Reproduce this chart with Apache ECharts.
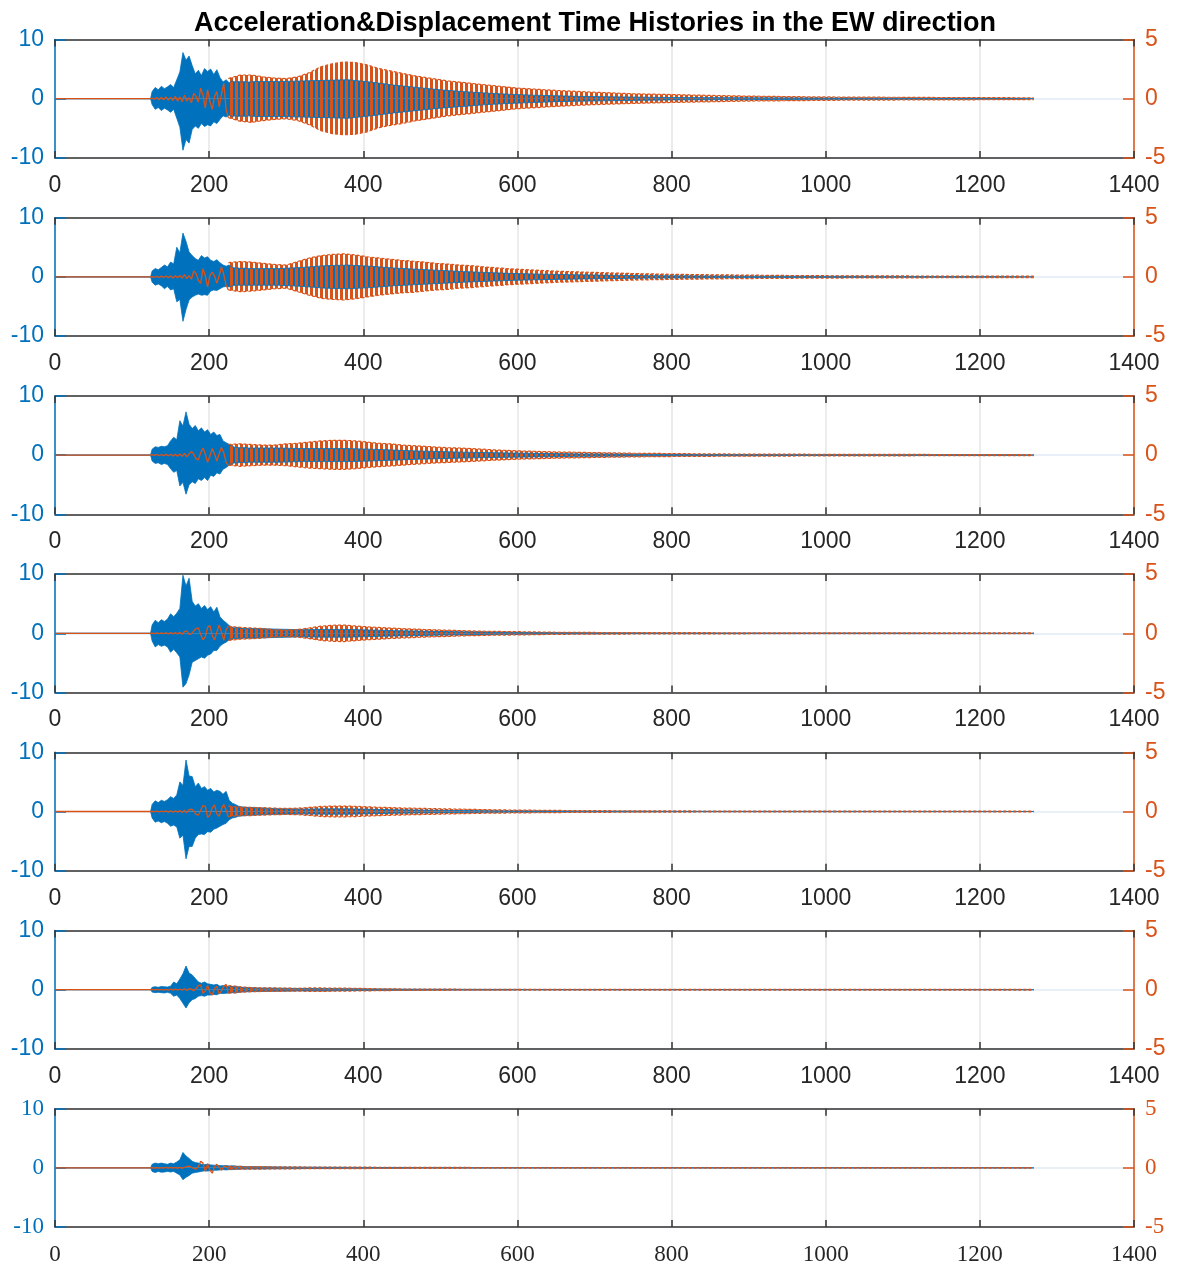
<!DOCTYPE html>
<html>
<head>
<meta charset="utf-8">
<title>Acceleration&Displacement Time Histories</title>
<script src="https://cdn.jsdelivr.net/npm/echarts@6/dist/echarts.min.js"></script>
<style>
  html, body { margin: 0; padding: 0; background: #fff; }
  #chart { width: 1177px; height: 1266px; }
</style>
</head>
<body>
<div id="chart"></div>
<script>
// Acceleration (blue, left axis) is drawn as its min/max envelope,
// displacement (orange, right axis) as explicit early waves + envelope band.

const TITLE = 'Acceleration&Displacement Time Histories in the EW direction';
const X_MIN = 0, X_MAX = 1400, X_STEP = 200;
const ACC_MIN = -10, ACC_MAX = 10, ACC_STEP = 10;
const DISP_MIN = -5, DISP_MAX = 5, DISP_STEP = 5;

// time grid of the acceleration envelope (s)
const ACC_T = [0, 124,
  126, 130, 134, 138, 142, 146, 150, 154, 158, 162,
  166, 170, 174, 178, 182, 186, 190, 194, 198, 202,
  206, 210, 214, 218, 222, 226, 230, 234, 238, 242,
  246, 250,
  260, 290, 320, 350, 380, 410, 440, 470, 500, 530,
  560, 590, 620, 650, 680, 710, 740, 770, 800,
  900, 1000, 1100, 1200, 1270];

// upper envelope of acceleration, one row per panel
const accUpper = [
  [0, 0,
    1.2, 1.9, 1.5, 2.1, 1.7, 2.0, 2.4, 1.9, 3.2, 4.5,
    7.8, 6.5, 7.2, 5.6, 4.2, 4.8, 3.9, 5.1, 4.6, 5.0,
    4.1, 4.9, 3.6, 2.8, 3.2, 2.7, 3.0, 2.8, 2.9, 2.8,
    2.9, 2.8,
    2.9, 2.9, 3.0, 3.1, 3.2, 2.8, 2.3, 1.9, 1.5, 1.2,
    0.95, 0.75, 0.6, 0.5, 0.4, 0.35, 0.3, 0.25, 0.2,
    0.15, 0.1, 0.08, 0.06, 0],
  [0, 0,
    1.0, 1.4, 1.2, 1.6, 2.0, 1.7, 2.5, 2.2, 5.0, 4.1,
    7.4, 6.0, 4.2, 3.6, 3.1, 2.8, 3.6, 3.2, 3.4, 2.8,
    2.6, 2.9, 2.4, 2.0, 1.8, 2.0, 1.6, 1.5, 1.5, 1.4,
    1.5, 1.4,
    1.4, 1.4, 1.6, 1.9, 2.0, 1.8, 1.5, 1.3, 1.1, 0.9,
    0.75, 0.6, 0.5, 0.42, 0.35, 0.3, 0.25, 0.2, 0.18,
    0.12, 0.1, 0.08, 0.06, 0],
  [0, 0,
    1.0, 1.4, 1.3, 1.5, 1.4, 1.6, 2.4, 3.0, 2.6, 5.8,
    4.9, 7.3, 5.2, 4.5, 5.0, 4.1, 4.6, 3.9, 4.3, 3.5,
    3.9, 3.3, 3.5, 2.4, 2.1, 1.8, 1.5, 1.3, 1.3, 1.2,
    1.3, 1.2,
    1.2, 1.2, 1.1, 1.1, 1.1, 1.0, 0.85, 0.7, 0.6, 0.5,
    0.42, 0.36, 0.3, 0.25, 0.2, 0.18, 0.15, 0.12, 0.1,
    0.08, 0.06, 0.05, 0.04, 0],
  [0, 0,
    1.4, 2.2, 1.8, 2.3, 2.0, 2.4, 3.3, 2.8, 3.4, 4.2,
    9.8, 8.0, 9.3, 5.4, 4.6, 5.0, 4.2, 4.7, 4.0, 4.5,
    3.6, 4.4, 2.8, 2.2, 1.8, 1.3, 1.0, 0.9, 1.0, 0.8,
    0.85, 0.8,
    0.8, 0.7, 0.6, 0.65, 0.65, 0.55, 0.45, 0.38, 0.3, 0.25,
    0.2, 0.16, 0.13, 0.1, 0.08, 0.07, 0.06, 0.05, 0.05,
    0.04, 0.03, 0.03, 0.02, 0],
  [0, 0,
    1.2, 1.8, 1.5, 1.9, 1.7, 2.0, 2.5, 2.2, 2.8, 5.0,
    4.4, 8.7, 6.0, 5.9, 4.2, 4.8, 3.9, 4.2, 3.6, 3.9,
    3.3, 3.6, 3.4, 2.9, 3.4, 1.9, 1.4, 1.2, 0.9, 0.8,
    0.7, 0.7,
    0.65, 0.45, 0.4, 0.45, 0.45, 0.38, 0.3, 0.25, 0.2, 0.16,
    0.13, 0.1, 0.08, 0.07, 0.06, 0.05, 0.05, 0.04, 0.04,
    0.03, 0.03, 0.02, 0.02, 0],
  [0, 0,
    0.4, 0.5, 0.4, 0.55, 0.5, 0.45, 0.6, 1.3, 1.0, 1.8,
    2.7, 4.0, 2.8, 2.5, 1.9, 1.3, 1.1, 1.3, 1.0, 0.9,
    0.8, 0.9, 0.6, 0.7, 0.6, 0.55, 0.5, 0.6, 0.45, 0.4,
    0.35, 0.35,
    0.3, 0.25, 0.2, 0.18, 0.15, 0.12, 0.1, 0.08, 0.07, 0.06,
    0.05, 0.05, 0.04, 0.04, 0.03, 0.03, 0.03, 0.02, 0.02,
    0.02, 0.02, 0.02, 0.02, 0],
  [0, 0,
    0.6, 0.8, 0.7, 0.8, 0.7, 0.6, 0.8, 0.7, 1.0, 1.35,
    2.6, 2.0, 1.6, 1.1, 0.9, 0.8, 0.6, 0.55, 0.6, 0.5,
    0.45, 0.4, 0.4, 0.35, 0.4, 0.3, 0.35, 0.3, 0.25, 0.25,
    0.2, 0.2,
    0.2, 0.15, 0.12, 0.1, 0.08, 0.06, 0.05, 0.04, 0.04, 0.03,
    0.03, 0.02, 0.02, 0.02, 0.02, 0.02, 0.02, 0.02, 0.02,
    0.02, 0.02, 0.02, 0.02, 0]
];

// lower envelope of acceleration
const accLower = [
  [0, 0,
    -1.0, -1.8, -1.5, -2.0, -1.6, -1.9, -2.3, -1.8, -3.3, -4.8,
    -8.7, -6.9, -7.5, -5.2, -4.6, -5.0, -4.2, -4.7, -4.4, -4.6,
    -3.9, -4.2, -3.5, -2.9, -3.1, -2.8, -3.0, -2.9, -3.0, -2.9,
    -3.0, -2.9,
    -3.0, -3.0, -3.1, -3.2, -3.3, -2.9, -2.4, -2.0, -1.6, -1.3,
    -1.0, -0.8, -0.65, -0.5, -0.42, -0.36, -0.3, -0.25, -0.2,
    -0.15, -0.1, -0.08, -0.06, 0],
  [0, 0,
    -0.9, -1.4, -1.2, -1.5, -2.0, -1.6, -2.2, -2.0, -4.2, -3.8,
    -7.5, -5.5, -3.9, -3.4, -3.1, -2.9, -3.1, -3.0, -3.1, -2.4,
    -2.2, -2.3, -2.0, -1.7, -1.6, -1.7, -1.5, -1.4, -1.4, -1.4,
    -1.4, -1.4,
    -1.4, -1.4, -1.6, -1.9, -2.0, -1.8, -1.5, -1.3, -1.1, -0.9,
    -0.75, -0.6, -0.5, -0.42, -0.35, -0.3, -0.25, -0.2, -0.18,
    -0.12, -0.1, -0.08, -0.06, 0],
  [0, 0,
    -1.0, -1.4, -1.3, -1.6, -1.4, -1.6, -2.3, -2.9, -2.6, -5.2,
    -4.6, -6.6, -5.0, -4.5, -4.8, -4.0, -4.3, -3.8, -4.3, -3.4,
    -3.6, -3.0, -3.2, -2.4, -2.1, -1.7, -1.4, -1.3, -1.3, -1.2,
    -1.3, -1.2,
    -1.2, -1.2, -1.1, -1.1, -1.1, -1.0, -0.85, -0.7, -0.6, -0.5,
    -0.42, -0.36, -0.3, -0.25, -0.2, -0.18, -0.15, -0.12, -0.1,
    -0.08, -0.06, -0.05, -0.04, 0],
  [0, 0,
    -1.3, -2.3, -1.9, -2.2, -2.0, -2.3, -3.2, -2.7, -3.3, -4.0,
    -9.1, -8.5, -7.0, -4.9, -4.6, -4.3, -4.0, -4.2, -3.7, -3.5,
    -2.9, -2.9, -2.2, -1.75, -1.5, -1.1, -0.9, -0.85, -0.9, -0.8,
    -0.8, -0.8,
    -0.8, -0.7, -0.6, -0.65, -0.65, -0.55, -0.45, -0.38, -0.3, -0.25,
    -0.2, -0.16, -0.13, -0.1, -0.08, -0.07, -0.06, -0.05, -0.05,
    -0.04, -0.03, -0.03, -0.02, 0],
  [0, 0,
    -1.1, -1.8, -1.6, -1.9, -1.7, -2.0, -2.5, -2.3, -2.6, -4.5,
    -4.0, -8.0, -5.9, -5.9, -4.5, -3.9, -3.8, -3.9, -3.4, -3.5,
    -3.0, -2.8, -2.5, -2.2, -2.0, -1.4, -1.1, -1.0, -0.8, -0.75,
    -0.7, -0.65,
    -0.6, -0.45, -0.4, -0.45, -0.45, -0.38, -0.3, -0.25, -0.2, -0.16,
    -0.13, -0.1, -0.08, -0.07, -0.06, -0.05, -0.05, -0.04, -0.04,
    -0.03, -0.03, -0.02, -0.02, 0],
  [0, 0,
    -0.4, -0.5, -0.45, -0.5, -0.55, -0.45, -0.6, -1.1, -0.9, -1.5,
    -2.3, -3.1, -2.2, -1.7, -1.5, -1.1, -1.0, -1.1, -0.9, -0.9,
    -0.8, -0.85, -0.6, -0.65, -0.6, -0.55, -0.5, -0.55, -0.45, -0.4,
    -0.35, -0.35,
    -0.3, -0.25, -0.2, -0.18, -0.15, -0.12, -0.1, -0.08, -0.07, -0.06,
    -0.05, -0.05, -0.04, -0.04, -0.03, -0.03, -0.03, -0.02, -0.02,
    -0.02, -0.02, -0.02, -0.02, 0],
  [0, 0,
    -0.6, -0.8, -0.6, -0.75, -0.7, -0.6, -0.7, -0.6, -0.9, -1.2,
    -2.0, -1.6, -1.3, -0.9, -0.8, -0.7, -0.6, -0.5, -0.55, -0.45,
    -0.4, -0.4, -0.35, -0.3, -0.35, -0.3, -0.3, -0.25, -0.25, -0.2,
    -0.2, -0.2,
    -0.2, -0.15, -0.12, -0.1, -0.08, -0.06, -0.05, -0.04, -0.04, -0.03,
    -0.03, -0.02, -0.02, -0.02, -0.02, -0.02, -0.02, -0.02, -0.02,
    -0.02, -0.02, -0.02, -0.02, 0]
];

// early displacement waves, read point by point (s)
const DISP_EARLY_T = [0,
  120, 123, 126, 129, 132, 135, 138, 141, 144, 147,
  150, 153, 156, 159, 162, 165, 168, 171, 174, 177,
  180, 183, 186, 189, 192, 195, 198, 201, 204, 207,
  210, 213, 216, 219, 222, 225];

const dispEarly = [
  [0,
    0, 0, 0.05, -0.05, 0.1, -0.1, 0.12, -0.1, 0.15, -0.12,
    0.1, -0.15, 0.2, -0.2, 0.15, -0.25, 0.3, -0.2, 0.1, -0.35,
    0.45, 0.2, -0.3, 0.9, 0.3, -0.8, 0.75, -0.2, -0.9, 0.2,
    0.6, -0.7, 0.4, 1.3, -0.9, -1.6],
  [0,
    0, 0, 0.03, -0.03, 0.05, -0.05, 0.06, -0.05, 0.08, -0.06,
    0.08, -0.1, 0.1, -0.08, 0.12, -0.1, 0.2, -0.15, 0.1, -0.2,
    0.5, 0.3, -0.3, -0.55, 0.7, 0.1, -0.85, 0.1, 0.4, 0.1,
    -0.55, 0.1, 0.85, 0.2, -0.7, -1.1],
  [0,
    0, 0, 0.03, -0.03, 0.05, -0.04, 0.05, -0.05, 0.06, -0.05,
    0.07, -0.08, 0.08, -0.1, 0.1, -0.1, 0.15, -0.15, 0.1, 0.3,
    0.1, -0.3, -0.4, 0.2, 0.6, 0.1, -0.6, -0.1, 0.55, 0.1,
    -0.5, 0.1, 0.65, 0.2, -0.6, -0.9],
  [0,
    0, 0, 0.02, -0.02, 0.03, -0.03, 0.04, -0.04, 0.05, -0.05,
    0.06, -0.05, 0.07, -0.06, 0.08, -0.08, 0.15, 0.2, -0.1, -0.05,
    0.2, 0.4, 0.45, -0.1, -0.55, -0.3, 0.5, 0.65, -0.2, -0.55,
    0.1, 0.7, 0.1, -0.6, 0.3, 0.6],
  [0,
    0, 0, 0.02, -0.02, 0.03, -0.03, 0.04, -0.04, 0.05, -0.05,
    0.06, -0.06, 0.07, -0.07, 0.08, -0.08, 0.1, -0.1, 0.15, 0.2,
    0.05, -0.25, -0.3, 0.1, 0.5, 0.45, -0.5, -0.3, 0.3, 0.55,
    -0.2, -0.4, 0.2, 0.6, 0.1, -0.5],
  [0,
    0, 0, 0.02, -0.02, 0.02, -0.02, 0.03, -0.03, 0.03, -0.03,
    0.04, -0.04, 0.05, -0.05, 0.06, -0.05, 0.08, -0.06, 0.08, 0.05,
    -0.1, 0.1, 0.35, 0.4, -0.3, -0.1, 0.35, -0.2, -0.45, 0.1,
    0.3, -0.35, -0.1, 0.3, 0.45, -0.3],
  [0,
    0, 0, 0.02, -0.02, 0.02, -0.02, 0.02, -0.02, 0.03, -0.03,
    0.03, -0.03, 0.04, -0.04, 0.05, -0.05, 0.05, 0.1, 0.15, 0.05,
    -0.05, -0.1, 0.1, 0.55, 0.4, -0.3, 0.35, -0.2, -0.45, 0.1,
    0.3, 0.05, -0.2, 0.1, 0.15, -0.1]
];

// time grid of the displacement envelope (s)
const DISP_T = [
  225, 240, 255, 270, 285, 300, 315, 330, 345, 360,
  375, 390, 405, 420, 435, 450, 465, 480, 495, 510,
  525, 540, 555, 570, 585, 600,
  650, 700, 750, 800, 850, 900, 950, 1000, 1050, 1100,
  1150, 1200, 1250, 1270];

const dispUpper = [
  [1.7, 2.0, 2.0, 1.85, 1.75, 1.7, 1.85, 2.2, 2.7, 2.95,
    3.1, 3.05, 2.85, 2.55, 2.35, 2.15, 1.95, 1.8, 1.65, 1.5,
    1.4, 1.3, 1.2, 1.1, 1.0, 0.9,
    0.7, 0.55, 0.42, 0.35, 0.28, 0.22, 0.18, 0.15, 0.13, 0.12,
    0.1, 0.1, 0.08, 0.08],
  [1.2, 1.3, 1.25, 1.15, 1.05, 1.0, 1.3, 1.6, 1.8, 1.9,
    1.95, 1.85, 1.7, 1.6, 1.5, 1.4, 1.32, 1.25, 1.15, 1.08,
    1.0, 0.95, 0.85, 0.78, 0.7, 0.65,
    0.48, 0.38, 0.28, 0.22, 0.18, 0.15, 0.12, 0.1, 0.09, 0.08,
    0.07, 0.07, 0.06, 0.06],
  [0.9, 0.95, 0.9, 0.85, 0.85, 0.95, 1.0, 1.1, 1.2, 1.25,
    1.25, 1.2, 1.1, 1.0, 0.95, 0.85, 0.8, 0.74, 0.68, 0.63,
    0.6, 0.55, 0.5, 0.44, 0.4, 0.36,
    0.27, 0.21, 0.16, 0.13, 0.1, 0.09, 0.08, 0.07, 0.06, 0.06,
    0.05, 0.05, 0.05, 0.05],
  [0.6, 0.5, 0.45, 0.4, 0.3, 0.28, 0.32, 0.45, 0.6, 0.68,
    0.7, 0.62, 0.55, 0.5, 0.44, 0.4, 0.36, 0.32, 0.29, 0.26,
    0.23, 0.2, 0.18, 0.16, 0.15, 0.14,
    0.09, 0.07, 0.06, 0.05, 0.05, 0.04, 0.04, 0.04, 0.04, 0.04,
    0.03, 0.03, 0.03, 0.03],
  [0.45, 0.38, 0.35, 0.32, 0.28, 0.26, 0.28, 0.35, 0.43, 0.46,
    0.46, 0.44, 0.4, 0.36, 0.33, 0.3, 0.28, 0.26, 0.24, 0.22,
    0.2, 0.18, 0.16, 0.14, 0.13, 0.12,
    0.09, 0.07, 0.06, 0.05, 0.04, 0.04, 0.04, 0.03, 0.03, 0.03,
    0.03, 0.03, 0.03, 0.03],
  [0.35, 0.25, 0.18, 0.15, 0.15, 0.13, 0.12, 0.15, 0.15, 0.14,
    0.13, 0.12, 0.1, 0.08, 0.07, 0.06, 0.06, 0.05, 0.05, 0.05,
    0.04, 0.04, 0.04, 0.04, 0.04, 0.03,
    0.03, 0.03, 0.03, 0.03, 0.03, 0.03, 0.03, 0.03, 0.03, 0.03,
    0.03, 0.03, 0.03, 0.03],
  [0.12, 0.12, 0.1, 0.1, 0.09, 0.08, 0.08, 0.07, 0.07, 0.07,
    0.07, 0.06, 0.06, 0.05, 0.05, 0.05, 0.04, 0.04, 0.04, 0.04,
    0.04, 0.03, 0.03, 0.03, 0.03, 0.03,
    0.03, 0.03, 0.03, 0.03, 0.03, 0.03, 0.03, 0.03, 0.03, 0.03,
    0.03, 0.03, 0.03, 0.03]
];

const dispLower = [
  [-1.6, -1.9, -2.0, -1.85, -1.75, -1.7, -1.85, -2.2, -2.7, -2.95,
    -3.05, -3.0, -2.8, -2.45, -2.25, -2.1, -1.9, -1.75, -1.6, -1.45,
    -1.35, -1.25, -1.15, -1.05, -0.95, -0.85,
    -0.65, -0.5, -0.4, -0.32, -0.26, -0.2, -0.17, -0.14, -0.12, -0.11,
    -0.1, -0.09, -0.08, -0.08],
  [-1.1, -1.25, -1.2, -1.1, -1.0, -0.95, -1.25, -1.55, -1.8, -1.9,
    -1.95, -1.85, -1.7, -1.55, -1.45, -1.35, -1.3, -1.2, -1.1, -1.05,
    -0.95, -0.9, -0.82, -0.75, -0.68, -0.62,
    -0.46, -0.36, -0.27, -0.21, -0.17, -0.14, -0.12, -0.1, -0.09, -0.08,
    -0.07, -0.07, -0.06, -0.06],
  [-0.85, -0.95, -0.9, -0.85, -0.85, -0.9, -1.0, -1.1, -1.15, -1.2,
    -1.2, -1.15, -1.05, -0.98, -0.92, -0.85, -0.78, -0.72, -0.66, -0.62,
    -0.58, -0.53, -0.48, -0.43, -0.39, -0.35,
    -0.26, -0.2, -0.15, -0.12, -0.1, -0.09, -0.08, -0.07, -0.06, -0.06,
    -0.05, -0.05, -0.05, -0.05],
  [-0.6, -0.5, -0.45, -0.4, -0.3, -0.28, -0.32, -0.45, -0.6, -0.68,
    -0.7, -0.62, -0.55, -0.5, -0.44, -0.4, -0.36, -0.32, -0.29, -0.26,
    -0.23, -0.2, -0.18, -0.16, -0.15, -0.14,
    -0.09, -0.07, -0.06, -0.05, -0.05, -0.04, -0.04, -0.04, -0.04, -0.04,
    -0.03, -0.03, -0.03, -0.03],
  [-0.4, -0.36, -0.34, -0.3, -0.27, -0.25, -0.27, -0.34, -0.42, -0.45,
    -0.45, -0.43, -0.39, -0.35, -0.32, -0.3, -0.27, -0.25, -0.23, -0.21,
    -0.19, -0.17, -0.15, -0.14, -0.13, -0.12,
    -0.09, -0.07, -0.06, -0.05, -0.04, -0.04, -0.04, -0.03, -0.03, -0.03,
    -0.03, -0.03, -0.03, -0.03],
  [-0.3, -0.22, -0.17, -0.15, -0.14, -0.13, -0.12, -0.14, -0.15, -0.13,
    -0.12, -0.11, -0.1, -0.08, -0.07, -0.06, -0.06, -0.05, -0.05, -0.05,
    -0.04, -0.04, -0.04, -0.04, -0.04, -0.03,
    -0.03, -0.03, -0.03, -0.03, -0.03, -0.03, -0.03, -0.03, -0.03, -0.03,
    -0.03, -0.03, -0.03, -0.03],
  [-0.12, -0.11, -0.1, -0.1, -0.09, -0.08, -0.08, -0.07, -0.07, -0.07,
    -0.06, -0.06, -0.06, -0.05, -0.05, -0.05, -0.04, -0.04, -0.04, -0.04,
    -0.04, -0.03, -0.03, -0.03, -0.03, -0.03,
    -0.03, -0.03, -0.03, -0.03, -0.03, -0.03, -0.03, -0.03, -0.03, -0.03,
    -0.03, -0.03, -0.03, -0.03]
];

const BLUE = '#0072BD';
const ORANGE = '#D95319';
const AXIS_DARK = '#333333';
const SANS = "'Liberation Sans', Arial, sans-serif";
const SERIF = "'Liberation Serif', 'Times New Roman', serif";
const PANEL_TOP = 39.5;
const PANEL_STEP = 178.2;
const PANEL_H = 118.4;

// vertical stripes that stand for the dense displacement oscillation
function stripeCanvas(color) {
  const c = document.createElement('canvas');
  c.width = 5;
  c.height = 8;
  const ctx = c.getContext('2d');
  ctx.fillStyle = color;
  ctx.fillRect(0, 0, 3, 8);
  return c;
}
const orangeStripes = stripeCanvas(ORANGE);

function pairs(ts, vs) {
  return ts.map((t, k) => [t, vs[k]]);
}
function plain(v) {
  return String(v);
}

const grids = [];
const xAxes = [];
const yAxes = [];
const series = [];

for (let i = 0; i < accUpper.length; i++) {
  const font = i === accUpper.length - 1 ? SERIF : SANS;
  grids.push({ left: 55, right: 43, top: PANEL_TOP + i * PANEL_STEP, height: PANEL_H });

  xAxes.push({
    gridIndex: i, type: 'value', position: 'bottom', min: X_MIN, max: X_MAX, interval: X_STEP,
    axisLine: { onZero: false, lineStyle: { color: AXIS_DARK, width: 1.5 } },
    axisTick: { inside: true, length: 7, lineStyle: { color: AXIS_DARK, width: 1.5 } },
    axisLabel: { color: '#262626', fontSize: 23, fontFamily: font, margin: 16, formatter: plain },
    splitLine: { show: true, lineStyle: { color: '#e6e6e6', width: 1.5 } },
  });
  xAxes.push({
    gridIndex: i, type: 'value', position: 'top', min: X_MIN, max: X_MAX, interval: X_STEP,
    axisLine: { onZero: false, lineStyle: { color: AXIS_DARK, width: 1.5 } },
    axisTick: { inside: true, length: 7, lineStyle: { color: AXIS_DARK, width: 1.5 } },
    axisLabel: { show: false },
    splitLine: { show: false },
  });
  yAxes.push({
    gridIndex: i, type: 'value', position: 'left', min: ACC_MIN, max: ACC_MAX, interval: ACC_STEP,
    axisLine: { show: true, onZero: false, lineStyle: { color: BLUE, width: 1.5 } },
    axisTick: { show: true, inside: true, length: 11, lineStyle: { color: BLUE, width: 1.5 } },
    axisLabel: { color: BLUE, fontSize: 23, fontFamily: font, margin: 11, formatter: plain },
    splitLine: { show: true, lineStyle: { color: '#e1eaf3', width: 1.5 } },
  });
  yAxes.push({
    gridIndex: i, type: 'value', position: 'right', min: DISP_MIN, max: DISP_MAX, interval: DISP_STEP,
    axisLine: { show: true, onZero: false, lineStyle: { color: ORANGE, width: 1.5 } },
    axisTick: { show: true, inside: true, length: 11, lineStyle: { color: ORANGE, width: 1.5 } },
    axisLabel: { color: ORANGE, fontSize: 23, fontFamily: font, margin: 11, formatter: plain },
    splitLine: { show: false },
  });

  const base = { type: 'line', xAxisIndex: 2 * i, symbol: 'none', silent: true, animation: false };

  // acceleration envelope (solid band)
  [accUpper[i], accLower[i]].forEach((vals) => {
    series.push(Object.assign({}, base, {
      yAxisIndex: 2 * i,
      data: pairs(ACC_T, vals),
      lineStyle: { color: BLUE, width: 0.8 },
      areaStyle: { color: BLUE, opacity: 1 },
    }));
  });

  // displacement envelope (striped band, dashed rim like the wave crests)
  [dispUpper[i], dispLower[i]].forEach((vals) => {
    series.push(Object.assign({}, base, {
      yAxisIndex: 2 * i + 1,
      data: pairs(DISP_T, vals),
      lineStyle: { color: ORANGE, width: 1.2, type: [3, 2] },
      areaStyle: { color: { image: orangeStripes, repeat: 'repeat' }, opacity: 1 },
    }));
  });

  // early displacement waves
  series.push(Object.assign({}, base, {
    yAxisIndex: 2 * i + 1,
    data: pairs(DISP_EARLY_T, dispEarly[i]),
    lineStyle: { color: ORANGE, width: 1.3 },
  }));
}

const chart = echarts.init(document.getElementById('chart'), null, { renderer: 'canvas' });
chart.setOption({
  animation: false,
  backgroundColor: '#ffffff',
  title: {
    text: TITLE,
    left: 590,
    top: 5,
    textAlign: 'center',
    textStyle: { fontSize: 27, fontWeight: 'bold', fontFamily: SANS, color: '#000' },
  },
  grid: grids,
  xAxis: xAxes,
  yAxis: yAxes,
  series: series,
});
</script>
</body>
</html>
